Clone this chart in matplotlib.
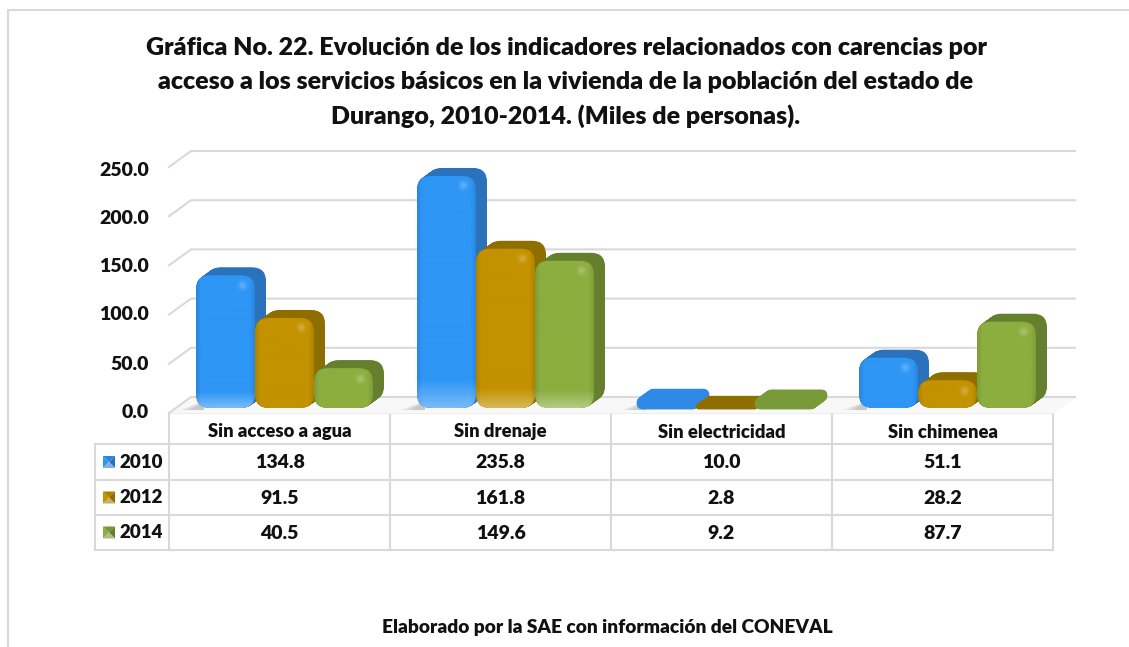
import numpy as np
import matplotlib
matplotlib.use('Agg')
import matplotlib.pyplot as plt
from matplotlib.patches import FancyBboxPatch, Polygon

categories = ['Sin acceso a agua', 'Sin drenaje', 'Sin electricidad', 'Sin chimenea']
years = ['2010', '2012', '2014']
values_2010 = [134.8, 235.8, 10.0, 51.1]
values_2012 = [91.5, 161.8, 2.8, 28.2]
values_2014 = [40.5, 149.6, 9.2, 87.7]
y_ticks = [0, 50, 100, 150, 200, 250]

title_lines = ['Gráfica No. 22. Evolución de los indicadores relacionados con carencias por',
               'acceso a los servicios básicos en la vivienda de la población del estado de',
               'Durango, 2010-2014. (Miles de personas).']
footer = 'Elaborado por la SAE con información del CONEVAL'

face_colors = ['#2E96F5', '#C39200', '#8BAE3F']
side_colors = ['#2B72BC', '#8F6E00', '#64802F']
flat_colors = ['#2E8AE6', '#8F6E00', '#789A38']
grid_color = '#D9D9D9'

W, H = 1129, 647
plt.rcParams['font.family'] = ['Lato', 'DejaVu Sans']
plt.rcParams['font.weight'] = 'heavy'

fig = plt.figure(figsize=(W / 100, H / 100), dpi=100, facecolor='white')

# overlay in pixel coordinates for frame and table
bg = fig.add_axes([0, 0, 1, 1])
bg.set_xlim(0, W)
bg.set_ylim(H, 0)
bg.axis('off')

# plot area: x in categories, y in thousands of people
ax = fig.add_axes([169 / W, (H - 413) / H, 884 / W, 246 / H])
ax.set_xlim(0, 4)
ax.set_ylim(0, 250)
ax.axis('off')

px_x = 4 / 884
px_y = 250 / 246


def hex_rgb(c):
    return np.array(matplotlib.colors.to_rgb(c))


def shade(color, w, h, value):
    # front face shading: dark side edges, light foot, small spot top right
    h = max(int(h), 2)
    yy, xx = np.mgrid[0:h, 0:w]
    u = xx / (w - 1)
    v = yy / (h - 1)
    img = np.ones((h, w, 3)) * hex_rgb(color)
    edge = np.clip(1 - np.minimum(u, 1 - u) / 0.08, 0, 1)
    img = img * (1 - 0.10 * edge[..., None])
    if value > 100:
        foot = np.clip((v - 0.88) / 0.12, 0, 1)
        img = img + (1 - img) * (0.35 * foot[..., None])
    if h > 25:
        d = ((xx - w * 0.78) ** 2 + (yy - 10) ** 2) / 16.0
        img = img + (1 - img) * (0.25 * np.exp(-d)[..., None])
    return np.clip(img, 0, 1)


def draw_bar(x, width, value, j):
    bottom = 5 * px_y
    dx = 11 * px_x
    dy = 8 * px_y
    h_px = value / px_y
    r = min(14, max(h_px / 2, 1.5)) * px_x
    aspect = px_y / px_x
    small = value < 15
    side_col = flat_colors[j] if small else side_colors[j]
    lw = 2 if small else 0
    for k in np.linspace(1, 0, 24):
        p = FancyBboxPatch((x + dx * k, bottom + dy * k), width, value,
                           boxstyle='round,pad=0,rounding_size=%f' % r,
                           mutation_aspect=aspect, fc=side_col, ec=side_col, lw=lw,
                           joinstyle='round', clip_on=False, zorder=3)
        ax.add_patch(p)
    if small:
        return
    front = FancyBboxPatch((x, bottom), width, value,
                           boxstyle='round,pad=0,rounding_size=%f' % r,
                           mutation_aspect=aspect, fc='none', ec='none',
                           clip_on=False, zorder=4)
    ax.add_patch(front)
    img = shade(face_colors[j], int(width / px_x), h_px, value)
    im = ax.imshow(img, extent=[x, x + width, bottom, bottom + value],
                   aspect='auto', zorder=4, origin='upper')
    im.set_clip_path(front)


# floor and gridlines
floor_dx = 22 * px_x
floor_dy = 16 * px_y
ax.fill([0, floor_dx, 4 + floor_dx, 4], [0, floor_dy, floor_dy, 0], color='#F8F8F8', zorder=1, clip_on=False)
for t in y_ticks:
    ax.plot([0, floor_dx, 4 + floor_dx], [t, t + floor_dy, t + floor_dy], color=grid_color,
            lw=1.5, zorder=2, clip_on=False, solid_joinstyle='round')

series = [values_2010, values_2012, values_2014]
bar_w = 59 * px_x
start = 27 * px_x
for i in range(len(categories)):
    # soft shadow on the floor, left of the first bar
    for reach in [16, 12, 8, 4]:
        ax.fill([i + start - reach * px_x, i + start + 8 * px_x, i + start + 8 * px_x],
                [3 * px_y, 3 * px_y, 12 * px_y], color='#999999', alpha=0.16, lw=0, zorder=2, clip_on=False)
    for j in range(3):
        draw_bar(i + start + j * bar_w, bar_w, series[j][i], j)

ax.set_xlim(0, 4)
ax.set_ylim(0, 250)

# y tick labels
for t, yp in zip(y_ticks, [412, 364, 315, 267, 218, 170]):
    bg.text(149, yp, '%.1f' % t, ha='right', va='center', fontsize=14, color='#111111')

# frame
bg.plot([8, 8, W], [H, 10, 10], color=grid_color, lw=1.5, solid_joinstyle='miter')

# data table
col_x = [169, 390, 611, 832, 1053]
row_y = [413, 444, 480, 515, 550]
for k, x in enumerate(col_x):
    bg.plot([x, x], [413, 550], color=grid_color, lw=1.5)
bg.plot([95, 95], [444, 550], color=grid_color, lw=1.5)
bg.plot([169, 1053], [413, 413], color=grid_color, lw=1.5)
for y in row_y[1:]:
    bg.plot([95, 1053], [y, y], color=grid_color, lw=1.5)

for i, name in enumerate(categories):
    xc = (col_x[i] + col_x[i + 1]) / 2
    bg.text(xc, 432, name, ha='center', va='center', fontsize=13.2, color='#111111')
    for j in range(3):
        bg.text(xc, (row_y[j + 1] + row_y[j + 2]) / 2 + 1, '%.1f' % series[j][i], ha='center', va='center',
                fontsize=14, color='#111111')

for j, year in enumerate(years):
    yc = (row_y[j + 1] + row_y[j + 2]) / 2
    bg.text(119, yc, year, ha='left', va='center', fontsize=13.5, color='#111111')
    x0, x1, y0, y1 = 103, 115, yc - 6, yc + 6
    mx, my = (x0 + x1) / 2, (y0 + y1) / 2
    f = hex_rgb(face_colors[j])
    s = hex_rgb(side_colors[j])
    bg.add_patch(Polygon([(x0, y0), (x0, y1), (mx, my)], fc=f, ec='none'))
    bg.add_patch(Polygon([(x0, y0), (x1, y0), (mx, my)], fc=(f + s) / 2, ec='none'))
    bg.add_patch(Polygon([(x1, y0), (x1, y1), (mx, my)], fc=s, ec='none'))
    bg.add_patch(Polygon([(x0, y1), (x1, y1), (mx, my)], fc=f * 0.5 + 0.5 * np.ones(3) * 0.8, ec='none'))

for line, yp in zip(title_lines, [48, 82, 116]):
    bg.text(566, yp, line, ha='center', va='center', fontsize=18, color='#111111')
bg.text(607, 627, footer, ha='center', va='center', fontsize=13.8, color='#111111')

fig.savefig('out.png', dpi=100)
